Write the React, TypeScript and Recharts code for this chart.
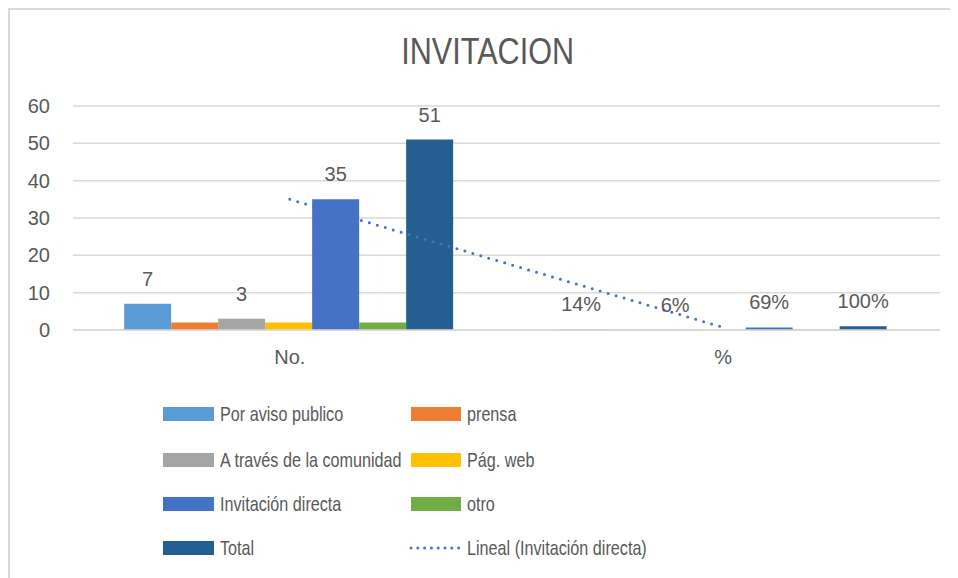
import React from 'react';
import { ComposedChart, Bar, Line, XAxis, YAxis, CartesianGrid, LabelList } from 'recharts';

const categories = ['No.', '%'];
const porAvisoPublico = [7, 0.14];
const prensa = [2, 0.04];
const aTravesComunidad = [3, 0.06];
const pagWeb = [2, 0.04];
const invitacionDirecta = [35, 0.69];
const otro = [2, 0.04];
const total = [51, 1];
const yTicks = [0, 10, 20, 30, 40, 50, 60];

const series = [
  { key: 'aviso', name: 'Por aviso publico', color: '#5b9bd5', values: porAvisoPublico, label: true },
  { key: 'prensa', name: 'prensa', color: '#ed7d31', values: prensa, label: false },
  { key: 'comunidad', name: 'A través de la comunidad', color: '#a5a5a5', values: aTravesComunidad, label: true },
  { key: 'web', name: 'Pág. web', color: '#ffc000', values: pagWeb, label: false },
  { key: 'directa', name: 'Invitación directa', color: '#4472c4', values: invitacionDirecta, label: true },
  { key: 'otro', name: 'otro', color: '#70ad47', values: otro, label: false },
  { key: 'total', name: 'Total', color: '#255e91', values: total, label: true },
];

const data = categories.map((c, i) => {
  const row: any = { cat: c, trend: invitacionDirecta[i] };
  series.forEach((s) => (row[s.key] = s.values[i]));
  return row;
});

const TEXT = '#595959';
const SANS = "'Liberation Sans', Arial, sans-serif";

const renderLabel = (props: any) => {
  const { x, y, width, value, index } = props;
  const txt = index === 0 ? String(value) : Math.round(value * 100) + '%';
  return (
    <text x={x + width / 2} y={y - 18} textAnchor="middle" fill={TEXT} fontSize={20} fontFamily={SANS}>
      {txt}
    </text>
  );
};

const legendLeft = [series[0], series[2], series[4], series[6]];
const legendRight = [series[1], series[3], series[5]];
const rowsY = [414, 460, 504, 548];

const labelStyle: React.CSSProperties = {
  marginLeft: 6,
  fontFamily: SANS,
  fontSize: 21,
  color: TEXT,
  whiteSpace: 'nowrap',
  display: 'inline-block',
  transform: 'scaleX(0.77)',
  transformOrigin: 'left center',
};

export default function App() {
  return (
    <div style={{ position: 'relative', width: 948, height: 568, borderTop: '2px solid #d9d9d9', borderLeft: '2px solid #d9d9d9', background: '#fff', overflow: 'hidden' }}>
      <div style={{ position: 'absolute', left: 0, width: 956, top: 52 - 10 - 22, textAlign: 'center', lineHeight: '44px' }}>
        <span style={{ display: 'inline-block', fontFamily: SANS, fontSize: 36, color: TEXT, transform: 'scaleX(0.85)', transformOrigin: 'center' }}>
          INVITACION
        </span>
      </div>
      <ComposedChart
        width={940}
        height={380}
        data={data}
        margin={{ top: 96, right: 10, left: 0, bottom: 0 }}
        barCategoryGap="11.8%"
        barGap={0}
      >
        <CartesianGrid vertical={false} stroke="#d9d9d9" strokeWidth={1.5} />
        <XAxis
          dataKey="cat"
          axisLine={{ stroke: '#d9d9d9', strokeWidth: 1.5 }}
          tickLine={false}
          tickSize={0}
          tickMargin={20}
          height={60}
          tick={{ fill: TEXT, fontSize: 20, fontFamily: SANS }}
        />
        <YAxis
          domain={[0, 60]}
          ticks={yTicks}
          axisLine={false}
          tickLine={false}
          tickSize={0}
          tickMargin={23}
          width={63}
          tick={{ fill: TEXT, fontSize: 20, fontFamily: SANS }}
        />
        {series.map((s) => (
          <Bar key={s.key} dataKey={s.key} name={s.name} fill={s.color} isAnimationActive={false}>
            {s.label ? <LabelList dataKey={s.key} content={renderLabel} /> : null}
          </Bar>
        ))}
        <Line
          dataKey="trend"
          stroke="#4472c4"
          strokeWidth={3}
          strokeDasharray="0 8.3"
          strokeLinecap="round"
          dot={false}
          activeDot={false}
          isAnimationActive={false}
        />
      </ComposedChart>
      {legendLeft.map((s, i) => (
        <div key={s.key} style={{ position: 'absolute', left: 163 - 10, top: rowsY[i] - 10 - 14, height: 28, display: 'flex', alignItems: 'center' }}>
          <div style={{ width: 51, height: 14, background: s.color }} />
          <span style={labelStyle}>{s.name}</span>
        </div>
      ))}
      {legendRight.map((s, i) => (
        <div key={s.key} style={{ position: 'absolute', left: 411 - 10, top: rowsY[i] - 10 - 14, height: 28, display: 'flex', alignItems: 'center' }}>
          <div style={{ width: 50, height: 14, background: s.color }} />
          <span style={labelStyle}>{s.name}</span>
        </div>
      ))}
      <div style={{ position: 'absolute', left: 409 - 10, top: rowsY[3] - 10 - 14, height: 28, display: 'flex', alignItems: 'center' }}>
        <svg width={52} height={6}>
          <line x1={2} y1={3} x2={50} y2={3} stroke="#4472c4" strokeWidth={3} strokeDasharray="0 6.8" strokeLinecap="round" />
        </svg>
        <span style={labelStyle}>Lineal (Invitación directa)</span>
      </div>
    </div>
  );
}
